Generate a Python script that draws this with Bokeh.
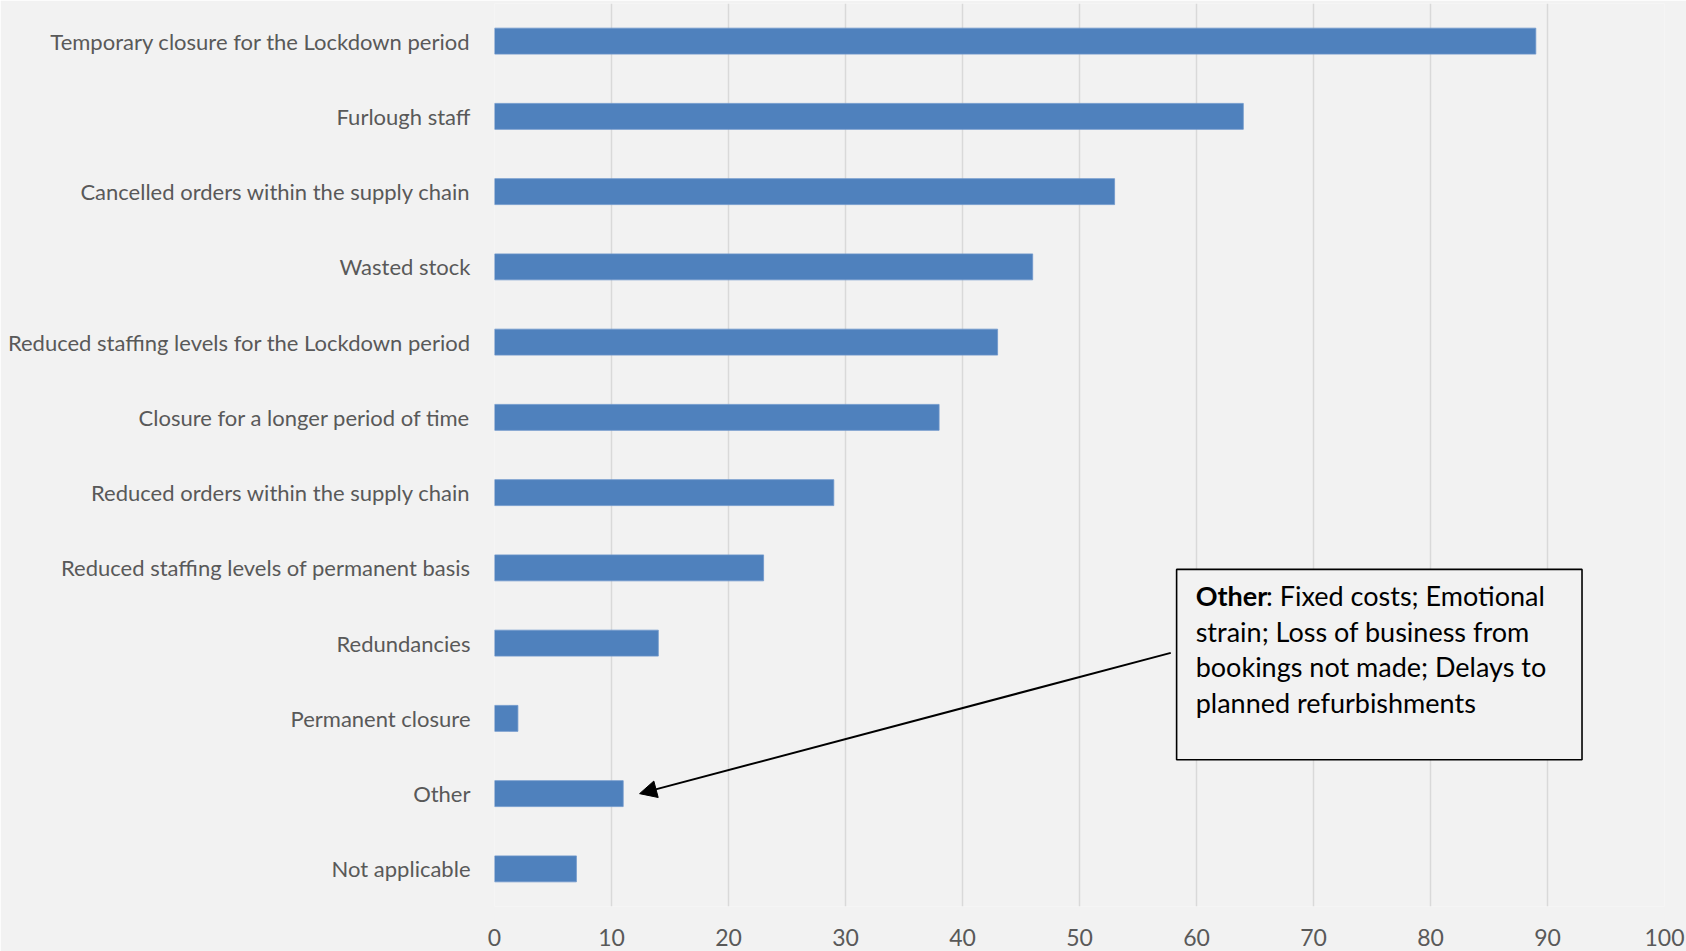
from bokeh.plotting import figure
from bokeh.models import (Range1d, FixedTicker, BoxAnnotation, Arrow, NormalHead,
                          Label, ColumnDataSource)
from bokeh.embed import file_html
from bokeh.resources import INLINE

# Impacts reported by businesses (number of responses)
categories = [
    "Temporary closure for the Lockdown period",
    "Furlough staff",
    "Cancelled orders within the supply chain",
    "Wasted stock",
    "Reduced staffing levels for the Lockdown period",
    "Closure for a longer period of time",
    "Reduced orders within the supply chain",
    "Reduced staffing levels of permanent basis",
    "Redundancies",
    "Permanent closure",
    "Other",
    "Not applicable",
]
counts = [89, 64, 53, 46, 43, 38, 29, 23, 14, 2, 11, 7]
x_ticks = [0, 10, 20, 30, 40, 50, 60, 70, 80, 90, 100]

note_bold = "Other"
note_lines = [
    ": Fixed costs; Emotional",
    "strain; Loss of business from",
    "bookings not made; Delays to",
    "planned refurbishments",
]

BG = "#f2f2f2"
BAR = "#4f81bd"
GRID = "#d9d9d9"
LABEL = "#595959"
FONT = "Lato"

positions = list(range(len(categories)))

p = figure(width=1686, height=951, output_backend="svg", toolbar_location=None,
           x_range=Range1d(0, 100),
           y_range=Range1d(len(categories) - 0.5, -0.5),
           min_border_left=494, min_border_right=22,
           min_border_top=3, min_border_bottom=45)
p.background_fill_color = BG
p.border_fill_color = BG
p.outline_line_color = None

src = ColumnDataSource(dict(y=positions, right=counts))
p.hbar(y="y", left=0, right="right", height=0.345, source=src,
       fill_color=BAR, line_color="#6f97cc", line_width=0.8)

# x axis
p.xaxis.ticker = FixedTicker(ticks=x_ticks)
p.xaxis.axis_line_color = None
p.xaxis.major_tick_line_color = None
p.xaxis.minor_tick_line_color = None
p.xaxis.major_tick_out = 0
p.xaxis.major_tick_in = 0
p.xaxis.major_label_text_font = FONT
p.xaxis.major_label_text_font_size = "23px"
p.xaxis.major_label_text_color = LABEL
p.xaxis.major_label_standoff = 22

# y axis with category names
p.yaxis.ticker = FixedTicker(ticks=positions)
p.yaxis.major_label_overrides = {i: c for i, c in zip(positions, categories)}
p.yaxis.axis_line_color = None
p.yaxis.major_tick_line_color = None
p.yaxis.minor_tick_line_color = None
p.yaxis.major_tick_out = 0
p.yaxis.major_tick_in = 0
p.yaxis.major_label_text_font = FONT
p.yaxis.major_label_text_font_size = "22px"
p.yaxis.major_label_text_color = LABEL
p.yaxis.major_label_standoff = 24

p.xgrid.ticker = FixedTicker(ticks=x_ticks)
p.xgrid.grid_line_color = GRID
p.xgrid.grid_line_width = 1.5
p.ygrid.grid_line_color = None

# note box
p.add_layout(BoxAnnotation(left=58.3, right=92.95, top=7.02, bottom=9.55,
                           fill_color=BG, fill_alpha=1.0,
                           line_color="black", line_alpha=1.0, line_width=1.6,
                           level="overlay"))

other_idx = categories.index("Other")
p.add_layout(Arrow(end=NormalHead(size=17, fill_color="black", line_color="black"),
                   x_start=57.8, y_start=8.13,
                   x_end=counts[other_idx] + 1.4, y_end=positions[other_idx],
                   line_color="black", line_width=2))

line_y0 = 7.37
line_step = 0.472
note_x = 59.93
p.add_layout(Label(x=note_x, y=line_y0, text=note_bold, text_font=FONT,
                   text_font_style="bold", text_font_size="27px",
                   text_color="black", text_baseline="middle", level="overlay"))
for k, t in enumerate(note_lines):
    xx = 65.95 if k == 0 else note_x
    p.add_layout(Label(x=xx, y=line_y0 + k * line_step, text=t, text_font=FONT,
                       text_font_size="27px", text_color="black",
                       text_baseline="middle", level="overlay"))

open("out.html", "w").write(file_html(p, INLINE))
